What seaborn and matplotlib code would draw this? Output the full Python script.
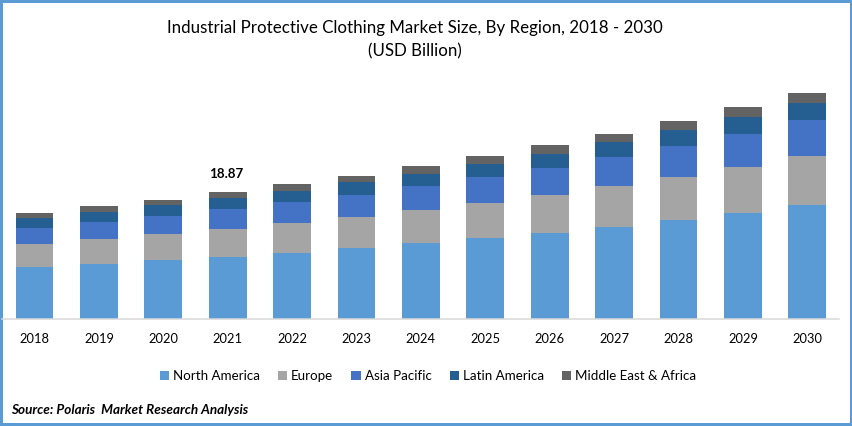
import numpy as np
import pandas as pd
import matplotlib
matplotlib.use('Agg')
import matplotlib.pyplot as plt
from matplotlib.patches import Patch
import seaborn as sns

years = ['2018', '2019', '2020', '2021', '2022', '2023', '2024',
         '2025', '2026', '2027', '2028', '2029', '2030']
north_america = [7.73, 8.17, 8.77, 9.21, 9.81, 10.55, 11.29, 12.04, 12.78, 13.67, 14.71, 15.75, 16.94]
europe = [3.42, 3.72, 3.86, 4.16, 4.46, 4.61, 4.90, 5.20, 5.65, 6.09, 6.39, 6.84, 7.28]
asia_pacific = [2.38, 2.53, 2.67, 2.97, 3.12, 3.27, 3.57, 3.86, 4.01, 4.31, 4.61, 4.90, 5.35]
latin_america = [1.49, 1.49, 1.63, 1.63, 1.63, 1.93, 1.78, 1.93, 2.08, 2.23, 2.38, 2.53, 2.53]
middle_east = [0.74, 0.89, 0.74, 0.90, 1.04, 0.89, 1.19, 1.19, 1.34, 1.19, 1.34, 1.49, 1.49]

regions = ['North America', 'Europe', 'Asia Pacific', 'Latin America', 'Middle East & Africa']
colors = ['#5B9BD5', '#A5A5A5', '#4472C4', '#255E91', '#636363']
series = [north_america, europe, asia_pacific, latin_america, middle_east]

sns.set_theme(style='white')
plt.rcParams['font.family'] = ['Lato', 'DejaVu Sans']

W, H = 853, 426
fig = plt.figure(figsize=(W / 100, H / 100), dpi=100, facecolor='white')
fig.patch.set_edgecolor('#5B9BD5')
fig.patch.set_linewidth(4.0)

# axes box in pixels, baseline sits at y=319
ax = fig.add_axes([2.3 / W, (H - 319) / H, 837.2 / W, 269.2 / H])
ax.patch.set_visible(False)

df = pd.DataFrame({'year': years})
bottom = np.zeros(len(years))
for name, vals, col in zip(regions, series, colors):
    df[name] = vals
    sns.barplot(data=df, x='year', y=name, color=col, saturation=1, width=0.59,
                bottom=bottom, ax=ax, linewidth=0)
    bottom = bottom + np.array(vals)

ax.set_xlim(-0.5, 12.5)
ax.set_ylim(0, 40)
ax.set_xlabel('')
ax.set_ylabel('')
ax.set_yticks([])
ax.tick_params(axis='x', length=0, pad=10, labelsize=9.3, labelcolor='black')
sns.despine(ax=ax, left=True)
ax.spines['bottom'].set_color('#D9D9D9')
ax.spines['bottom'].set_linewidth(1.1)

# only 2021 carries a label
ax.text(2.98, 20.7, '18.87', ha='center', va='bottom', fontsize=9.6, fontweight='bold', color='black')

fig.text(414.5 / W, 1 - 28 / H, 'Industrial Protective Clothing Market Size, By Region, 2018 - 2030',
         ha='center', va='center', fontsize=12.2, color='black')
fig.text(414.5 / W, 1 - 51 / H, '(USD Billion)', ha='center', va='center', fontsize=12.2, color='black')

handles = [Patch(facecolor=c, edgecolor='none') for c in colors]
fig.legend(handles, regions, loc='center', bbox_to_anchor=(428 / W, 1 - 376 / H), ncol=5, frameon=False,
           fontsize=9.6, handlelength=0.7, handleheight=0.7, handletextpad=0.3, columnspacing=1.35,
           labelcolor='black')

fig.text(11 / W, 1 - 410 / H, 'Source: Polaris  Market Research Analysis', ha='left', va='center',
         fontsize=9.7, fontweight='bold', fontstyle='italic', color='black')

fig.savefig('out.png', dpi=100)
